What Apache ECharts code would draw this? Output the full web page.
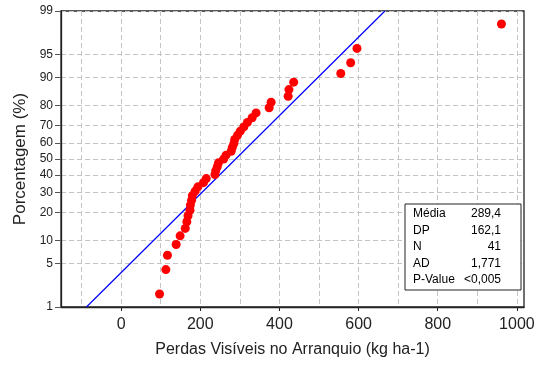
<!DOCTYPE html>
<html>
<head>
<meta charset="utf-8">
<script src="https://cdn.jsdelivr.net/npm/echarts@6/dist/echarts.min.js"></script>
<style>
  html, body { margin: 0; padding: 0; background: #fff; }
  #chart { width: 544px; height: 367px; }
</style>
</head>
<body>
<div id="chart"></div>
<script>
// Observed losses, sorted ascending (kg ha-1)
const perdas = [97, 113, 117, 139, 149, 162, 166, 169, 174, 175,
                178, 180, 187, 194, 208, 215, 237, 239, 243, 246,
                259, 265, 278, 281, 285, 287, 294, 301, 310, 319,
                331, 341, 374, 379, 422, 424, 436, 555, 580, 596, 961];
// Cumulative percentage of each observation (median ranks)
const percentagem = [1.69, 4.11, 6.52, 8.94, 11.35, 13.77, 16.18, 18.60, 21.01, 23.43,
                     25.85, 28.26, 30.68, 33.09, 35.51, 37.92, 40.34, 42.75, 45.17, 47.58,
                     50.00, 52.42, 54.83, 57.25, 59.66, 62.08, 64.49, 66.91, 69.32, 71.74,
                     74.15, 76.57, 78.99, 81.40, 83.82, 86.23, 88.65, 91.06, 93.48, 95.89, 98.31];
// Probability axis tick labels (%)
const yTicks = [1, 5, 10, 20, 30, 40, 50, 60, 70, 80, 90, 95, 99];
// Value axis labels and grid lines
const xLabels = [0, 200, 400, 600, 800, 1000];
const xGrid = [-100, 0, 100, 200, 300, 400, 500, 600, 700, 800, 900, 1000];
// Summary statistics
const media = 289.4;
const dp = 162.1;
const statNames = ['Média', 'DP', 'N', 'AD', 'P-Value'];
const statValues = ['289,4', '162,1', '41', '1,771', '<0,005'];

// Inverse standard normal CDF (Acklam) -> probability scale transform
function normInv(p) {
  const a = [-3.969683028665376e+01, 2.209460984245205e+02, -2.759285104469687e+02, 1.383577518672690e+02, -3.066479806614716e+01, 2.506628277459239e+00];
  const b = [-5.447609879822406e+01, 1.615858368580409e+02, -1.556989798598866e+02, 6.680131188771972e+01, -1.328068155288572e+01];
  const c = [-7.784894002430293e-03, -3.223964580411365e-01, -2.400758277161838e+00, -2.549732539343734e+00, 4.374664141464968e+00, 2.938163982698783e+00];
  const d = [7.784695709041462e-03, 3.224671290700398e-01, 2.445134137142996e+00, 3.754408661907416e+00];
  const pl = 0.02425, ph = 1 - pl;
  let q, r;
  if (p < pl) {
    q = Math.sqrt(-2 * Math.log(p));
    return (((((c[0]*q + c[1])*q + c[2])*q + c[3])*q + c[4])*q + c[5]) / ((((d[0]*q + d[1])*q + d[2])*q + d[3])*q + 1);
  }
  if (p <= ph) {
    q = p - 0.5; r = q * q;
    return (((((a[0]*r + a[1])*r + a[2])*r + a[3])*r + a[4])*r + a[5])*q / (((((b[0]*r + b[1])*r + b[2])*r + b[3])*r + b[4])*r + 1);
  }
  q = Math.sqrt(-2 * Math.log(1 - p));
  return -(((((c[0]*q + c[1])*q + c[2])*q + c[3])*q + c[4])*q + c[5]) / ((((d[0]*q + d[1])*q + d[2])*q + d[3])*q + 1);
}

const zOf = pct => normInv(pct / 100);
const zTicks = yTicks.map(zOf);
const zMin = zOf(yTicks[0]);
const zMax = zOf(yTicks[yTicks.length - 1]);

const pontos = perdas.map((v, i) => [v, zOf(percentagem[i])]);
// Fitted normal line from mean and standard deviation
const ajuste = [[media + dp * zMin, zMin], [media + dp * zMax, zMax]];

const fontFam = '"Liberation Sans", Arial, sans-serif';
const gridDash = { color: '#c4c4c4', width: 1, type: [5, 3] };

const chart = echarts.init(document.getElementById('chart'), null, { renderer: 'canvas' });

const statTexts = [];
statNames.forEach((n, i) => {
  statTexts.push({
    type: 'text', left: 413, top: 208 + i * 16.5,
    style: { text: n, font: '12px ' + fontFam, fill: '#000' }
  });
  statTexts.push({
    type: 'text', right: 544 - 501, top: 208 + i * 16.5,
    style: { text: statValues[i], font: '12px ' + fontFam, fill: '#000', align: 'right' }
  });
});

chart.setOption({
  animation: false,
  backgroundColor: '#fff',
  grid: {
    left: 61, right: 20, top: 11, bottom: 60,
    show: true, borderColor: '#222', borderWidth: 1.3, backgroundColor: '#fff'
  },
  xAxis: [{
    type: 'value', min: -152, max: 1018,
    name: 'Perdas Visíveis no Arranquio (kg ha-1)',
    nameLocation: 'middle', nameGap: 35,
    nameTextStyle: { fontFamily: fontFam, fontSize: 16, color: '#222' },
    axisLine: { show: true, onZero: false, lineStyle: { color: '#222', width: 1.3 } },
    axisTick: { show: false, customValues: xGrid },
    axisLabel: {
      customValues: xLabels, margin: 10, fontFamily: fontFam, fontSize: 16, color: '#222',
      formatter: v => String(Math.round(v))
    },
    splitLine: { show: true, lineStyle: gridDash }
  }, {
    type: 'value', min: -152, max: 1018, position: 'bottom',
    axisLine: { show: false, onZero: false },
    axisTick: { show: true, length: 4, customValues: xLabels, lineStyle: { color: '#222' } },
    axisLabel: { show: false },
    splitLine: { show: false }
  }],
  yAxis: {
    type: 'value', min: zMin, max: zMax,
    name: 'Porcentagem (%)',
    nameLocation: 'middle', nameGap: 30,
    nameTextStyle: { fontFamily: fontFam, fontSize: 17, color: '#222' },
    axisLine: { show: true, onZero: false, lineStyle: { color: '#222', width: 1.3 } },
    axisTick: { show: true, length: 6, customValues: zTicks, lineStyle: { color: '#555' } },
    axisLabel: {
      customValues: zTicks, margin: 8, fontFamily: fontFam, fontSize: 12, color: '#222',
      formatter: v => {
        const i = zTicks.findIndex(t => Math.abs(t - v) < 1e-6);
        return i >= 0 ? String(yTicks[i]) : '';
      }
    },
    splitLine: { show: true, lineStyle: gridDash }
  },
  series: [{
    type: 'line', data: ajuste, xAxisIndex: 0, showSymbol: false, symbol: 'none',
    lineStyle: { color: '#0000ff', width: 1.2 }, silent: true, z: 2
  }, {
    type: 'scatter', data: pontos, xAxisIndex: 0, symbol: 'circle', symbolSize: 9,
    itemStyle: { color: '#ff0000', opacity: 1 }, z: 3
  }],
  graphic: [{
    type: 'rect', shape: { x: 405, y: 204, width: 116, height: 86 },
    style: { fill: '#fff', stroke: '#222', lineWidth: 1 }, z: 10
  }].concat(statTexts.map(t => Object.assign(t, { z: 11 })))
});
</script>
</body>
</html>
